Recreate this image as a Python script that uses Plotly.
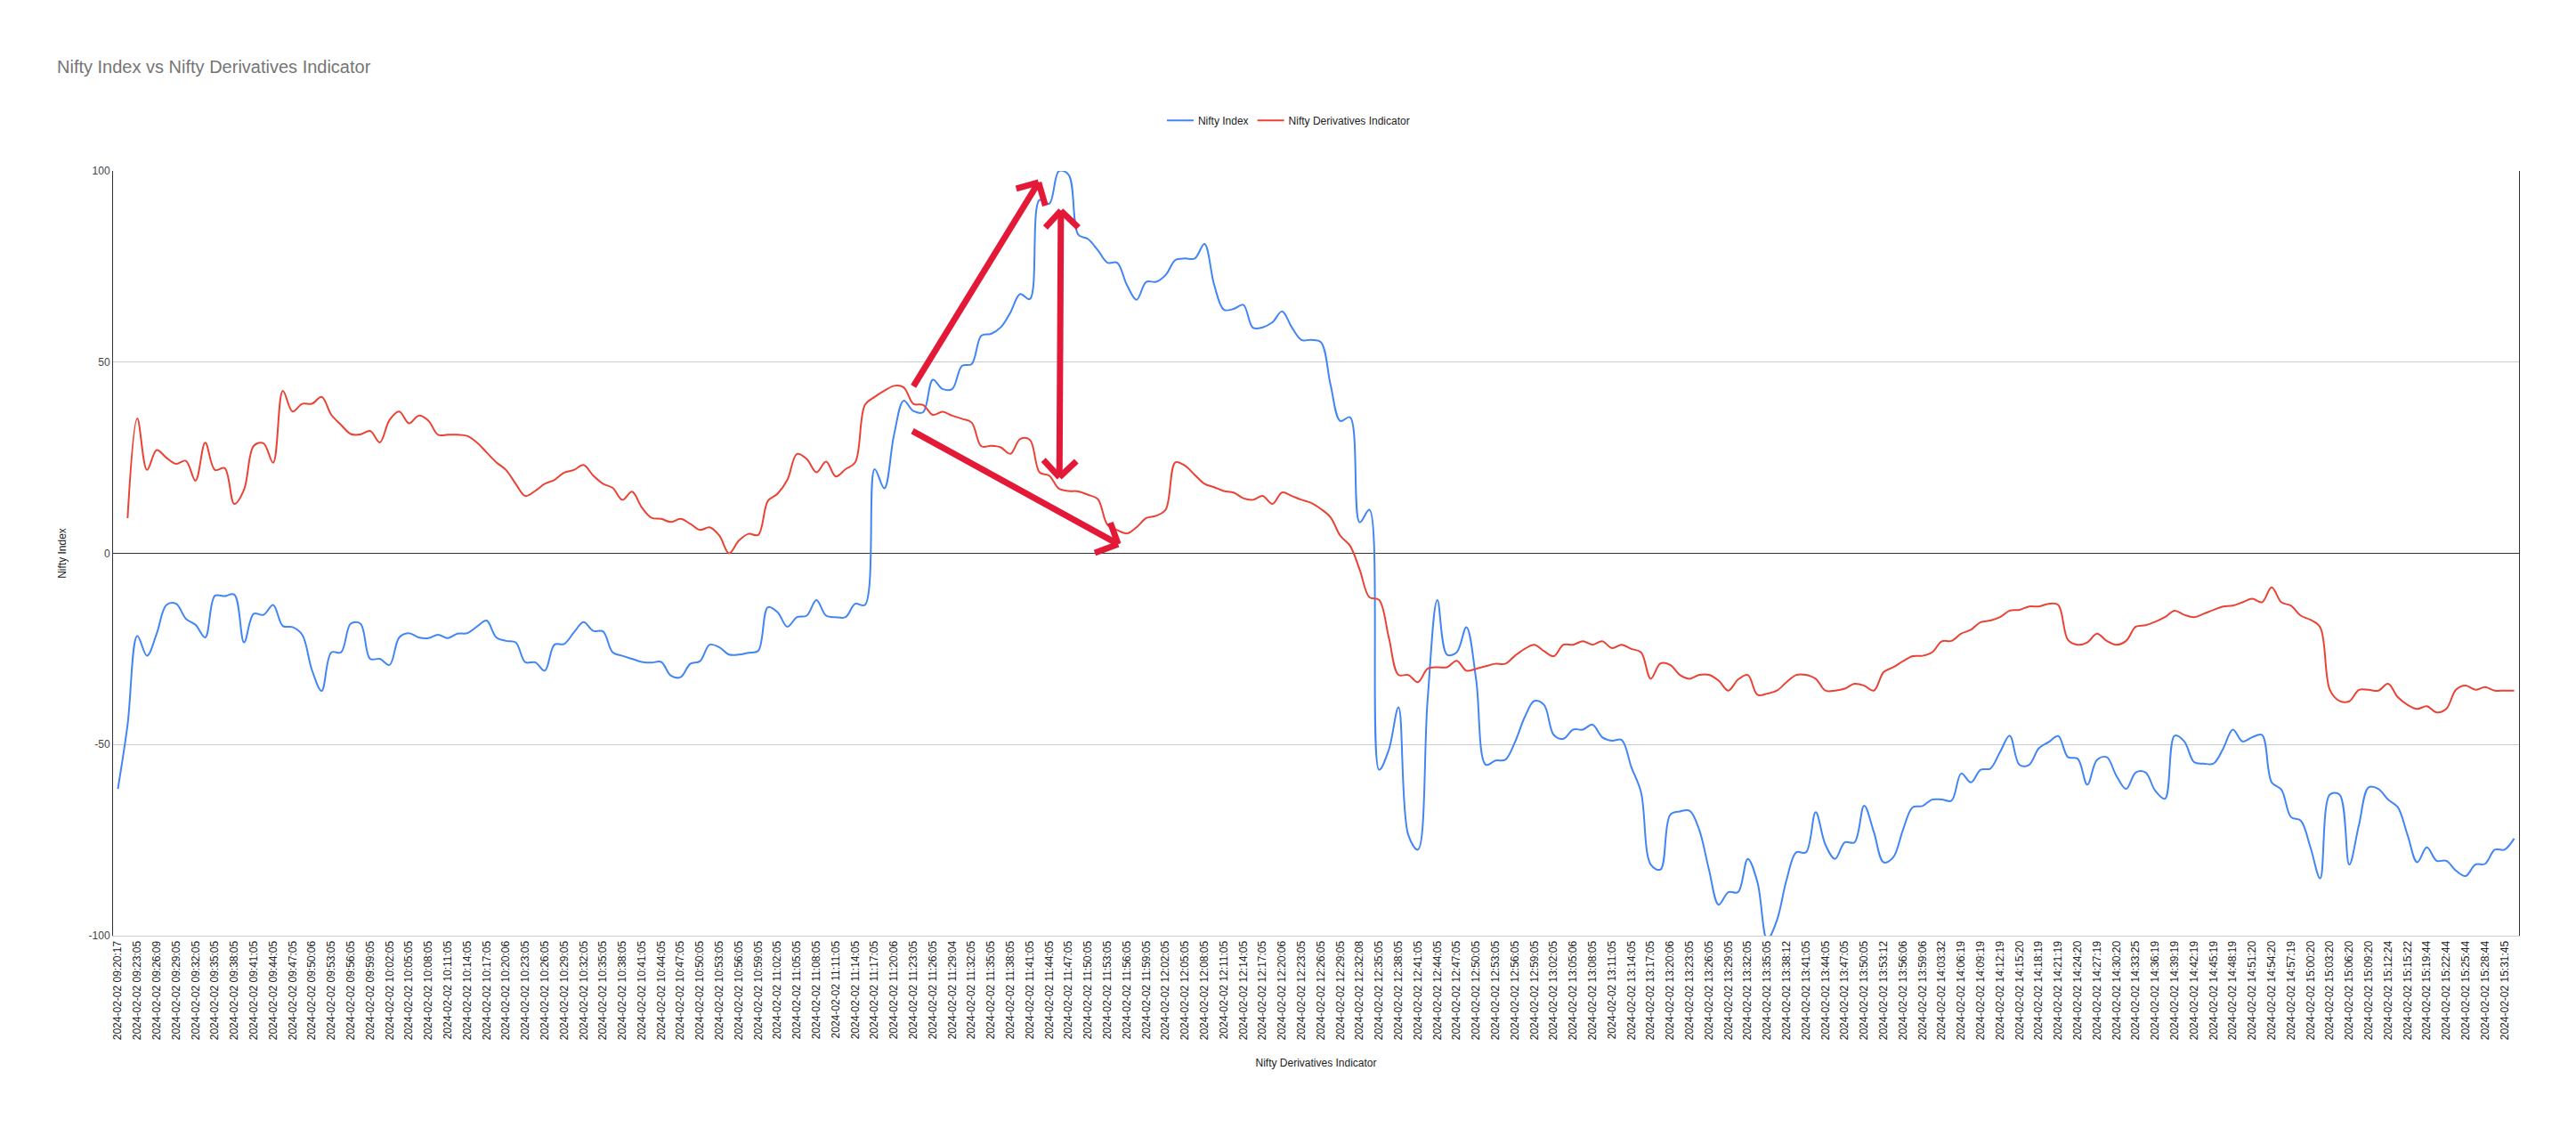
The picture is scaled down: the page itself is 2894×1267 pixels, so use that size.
import plotly.graph_objects as go

DATE = "2024-02-02"
tick_times = [
    "09:20:17","09:23:05","09:26:09","09:29:05","09:32:05","09:35:05","09:38:05","09:41:05","09:44:05","09:47:05","09:50:06","09:53:05","09:56:05","09:59:05","10:02:05","10:05:05","10:08:05","10:11:05","10:14:05","10:17:05","10:20:06","10:23:05",
    "10:26:05","10:29:05","10:32:05","10:35:05","10:38:05","10:41:05","10:44:05","10:47:05","10:50:05","10:53:05","10:56:05","10:59:05","11:02:05","11:05:05","11:08:05","11:11:05","11:14:05","11:17:05","11:20:06","11:23:05","11:26:05","11:29:04",
    "11:32:05","11:35:05","11:38:05","11:41:05","11:44:05","11:47:05","11:50:05","11:53:05","11:56:05","11:59:05","12:02:05","12:05:05","12:08:05","12:11:05","12:14:05","12:17:05","12:20:06","12:23:05","12:26:05","12:29:05","12:32:08","12:35:05",
    "12:38:05","12:41:05","12:44:05","12:47:05","12:50:05","12:53:05","12:56:05","12:59:05","13:02:05","13:05:06","13:08:05","13:11:05","13:14:05","13:17:05","13:20:06","13:23:05","13:26:05","13:29:05","13:32:05","13:35:05","13:38:12","13:41:05",
    "13:44:05","13:47:05","13:50:05","13:53:12","13:56:06","13:59:06","14:03:32","14:06:19","14:09:19","14:12:19","14:15:20","14:18:19","14:21:19","14:24:20","14:27:19","14:30:20","14:33:25","14:36:19","14:39:19","14:42:19","14:45:19","14:48:19",
    "14:51:20","14:54:20","14:57:19","15:00:20","15:03:20","15:06:20","15:09:20","15:12:24","15:15:22","15:19:44","15:22:44","15:25:44","15:28:44","15:31:45",
]
tick_labels = [f"{DATE} {t}" for t in tick_times]

nifty_index = [
    -61.6, -44.8, -21.6, -26.8, -21, -13.5, -13.2, -17.1, -18.7, -22,
    -11.1, -11.2, -10.8, -23.3, -15.8, -16.1, -13.5, -19, -19.3, -21.3,
    -30.5, -36, -25.9, -25.9, -18.4, -18.4, -27.6, -27.6, -29.2, -22,
    -20.9, -22, -22.2, -21.3, -22.2, -21, -20.9, -19.2, -17.6, -22,
    -22.9, -23.3, -28.5, -28.5, -30.7, -23.9, -23.7, -20.7, -18, -20.3,
    -20.4, -25.9, -26.8, -27.6, -28.4, -28.6, -28.4, -32, -32.4, -28.9,
    -28.2, -23.9, -24.6, -26.5, -26.5, -26, -25.5, -14.1, -15.4, -19.2,
    -16.7, -16.3, -12.2, -16.3, -16.7, -16.7, -13.2, -13.5, 22, 17,
    31, 39.9, 37.2, 36.9, 45.4, 43, 43, 49, 49.5, 56.9,
    57.4, 59.1, 63, 67.8, 66.5, 92.4, 91.4, 100, 99, 83.3,
    82.2, 79.3, 76, 76, 70.2, 66.3, 71, 71, 72.8, 76.7,
    77.1, 77.1, 80.9, 70.2, 63.7, 63.9, 65, 59, 59.1, 60.4,
    63.3, 59.1, 55.8, 55.8, 55.2, 44, 34.6, 35.6, 8.1, 11.4,
    -56.6, -51.4, -40.3, -73.6, -77.5, -38.3, -12.2, -26.5, -25.9, -19.3,
    -33, -55.3, -54.2, -54, -49.4, -42.9, -38.6, -39.6, -47.5, -48.5,
    -46.1, -46.1, -44.8, -48.1, -49, -48.8, -55.9, -62.5, -81.4, -82.7,
    -68.4, -67.5, -67.3, -72.3, -82.7, -91.9, -88.6, -88.6, -79.9, -86,
    -101, -96, -85.4, -78.2, -78.2, -67.7, -76.2, -79.9, -75.6, -75.6,
    -66, -72.9, -80.8, -79.5, -72.3, -66.4, -66.1, -64.4, -64.4, -64.7,
    -57.6, -59.9, -56.6, -56.3, -52, -47.7, -55.3, -55.3, -51, -49.4,
    -47.8, -53.3, -53.7, -60.5, -54, -53.3, -58.2, -61.6, -57.3, -57.3,
    -62.1, -64.2, -47.7, -49.2, -54.6, -55, -55, -51.1, -46.1, -49.2,
    -48.1, -47.5, -59.9, -61.8, -69, -69.9, -76.9, -85, -63.1, -63.1,
    -81.4, -71, -61.2, -61.6, -64.4, -66.4, -73.6, -80.8, -76.9, -80.4,
    -80.4, -83, -84.4, -81.4, -81.2, -77.5, -77.5, -74.6,
]

derivatives_indicator = [
    None, 9.2, 35.3, 21.8, 27, 25, 23.4, 24.2, 19, 28.9,
    21.8, 22.3, 12.9, 16.6, 28.1, 28.8, 23.7, 42.5, 37.1, 39.1,
    39.1, 40.9, 36.2, 33.6, 31.2, 31.1, 32, 29, 34.9, 37.1,
    34, 36, 34.7, 31, 31, 31, 30.7, 29, 26.4, 23.8,
    21.8, 18.2, 15, 16.3, 18.2, 19.2, 21.1, 21.8, 23.1, 20.3,
    18.2, 17.1, 14, 16.1, 12, 9.3, 9, 8.2, 9, 7.7,
    6.1, 6.8, 4.6, 0, 3.3, 5.1, 4.8, 13.7, 15.6, 19.2,
    26, 24.7, 21.2, 24, 20.1, 22, 23.8, 38.8, 40.9, 42.5,
    43.8, 43.4, 39.1, 38.8, 36.2, 37, 36, 35.2, 34.2, 28,
    28.1, 27.7, 26, 29.9, 29.7, 21.2, 20.3, 16.9, 16.3, 16.2,
    15.3, 14.2, 7.5, 6.1, 5.2, 6.8, 9.2, 9.8, 11.4, 23.8,
    22.9, 20.5, 18.2, 17.3, 16.3, 15.9, 14.4, 14, 15, 12.9,
    15.9, 15, 14, 13.2, 11.6, 9.4, 4.6, 2, -4.3, -11.5,
    -12.2, -22, -31.8, -31.8, -33.7, -30.2, -29.8, -29.8, -28.1, -30.7,
    -30.2, -29.5, -28.9, -28.9, -26.8, -25, -23.9, -25.6, -26.9, -23.9,
    -23.9, -23, -23.9, -23, -24.8, -23.9, -25, -25.9, -32.8, -28.8,
    -29.2, -31.8, -32.8, -31.8, -31.8, -33.3, -35.9, -33, -31.8, -37,
    -36.7, -35.9, -33.7, -31.8, -31.8, -32.8, -35.9, -35.9, -35.4, -34.1,
    -34.6, -35.9, -31.1, -29.8, -28.2, -26.9, -26.8, -25.9, -23, -22.9,
    -21, -20, -18, -17.6, -16.7, -15, -14.8, -13.9, -13.9, -13.2,
    -13.5, -22.6, -23.9, -23.3, -21, -22.9, -23.9, -22.9, -19.2, -18.8,
    -17.9, -16.7, -15, -16.1, -16.7, -15.8, -14.8, -13.9, -13.7, -12.8,
    -11.9, -12.8, -8.9, -12.8, -13.7, -16.3, -17.4, -19.3, -35.7, -38.6,
    -38.7, -35.7, -35.7, -35.9, -34.1, -37.6, -39.6, -40.7, -40, -41.6,
    -40.7, -35.7, -34.6, -35.7, -35, -35.9, -35.9, -35.9,
]

n = len(nifty_index)
x = list(range(n))
tick_positions = list(range(0, 2 * len(tick_labels), 2))

fig = go.Figure()
fig.add_trace(go.Scatter(x=x, y=nifty_index, name="Nifty Index", mode="lines",
                         line=dict(color="#4285F4", width=2, shape="spline", smoothing=1.0)))
fig.add_trace(go.Scatter(x=x, y=derivatives_indicator, name="Nifty Derivatives Indicator", mode="lines",
                         line=dict(color="#EA4335", width=2, shape="spline", smoothing=1.0)))

# hand-drawn style arrows (annotation overlay, in data coordinates)
ARROW = "#E31937"
arrow_segments = [
    # up-right arrow
    ((82.0, 43.7), (94.9, 97.0)), ((94.9, 97.0), (92.6, 95.4)), ((94.9, 97.0), (95.6, 90.9)),
    # double vertical arrow
    ((97.2, 89.6), (97.05, 19.9)), ((97.2, 89.6), (95.6, 85.2)), ((97.2, 89.6), (99.0, 85.2)),
    ((97.05, 19.9), (95.4, 24.4)), ((97.05, 19.9), (98.8, 24.1)),
    # down-right arrow
    ((81.9, 32.0), (103.1, 2.4)), ((103.1, 2.4), (102.3, 8.0)), ((103.1, 2.4), (100.7, 0.1)),
]
for (x0, y0), (x1, y1) in arrow_segments:
    fig.add_shape(type="line", xref="x", yref="y", x0=x0, y0=y0, x1=x1, y1=y1,
                  line=dict(color=ARROW, width=7), layer="above")

FONT = "Liberation Sans, Arial, sans-serif"
fig.update_layout(
    width=2894, height=1267,
    paper_bgcolor="white", plot_bgcolor="white",
    margin=dict(l=126.5, r=64, t=192.3, b=216, autoexpand=False),
    font=dict(family=FONT, size=12, color="#222222"),
    title=dict(text="Nifty Index vs Nifty Derivatives Indicator", xref="container", yref="container",
               x=64 / 2894, xanchor="left", y=1 - 75 / 1267, yanchor="middle",
               font=dict(family=FONT, size=20, color="#757575")),
    legend=dict(orientation="h", x=0.4885, xanchor="center", y=1.066, yanchor="middle",
                font=dict(family=FONT, size=12, color="#222222"), itemwidth=30,
                bgcolor="rgba(0,0,0,0)"),
    showlegend=True,
)
fig.update_xaxes(
    range=[-0.5, n - 0.5], tickmode="array", tickvals=tick_positions, ticktext=tick_labels,
    tickangle=-90, tickfont=dict(family=FONT, size=12, color="#222222"),
    showgrid=False, zeroline=False, showline=True, linecolor="#cccccc", linewidth=1,
    ticks="", title=dict(text="Nifty Derivatives Indicator", standoff=22,
                         font=dict(family=FONT, size=12, color="#222222")),
)
fig.update_yaxes(
    range=[-100, 100], tickmode="array", tickvals=[-100, -50, 0, 50, 100],
    ticktext=["-100", "-50", "0", "50", "100"],
    tickfont=dict(family=FONT, size=12, color="#444444"),
    showgrid=True, gridcolor="#cccccc", gridwidth=1,
    zeroline=True, zerolinecolor="#333333", zerolinewidth=1,
    showline=True, linecolor="#333333", linewidth=1, mirror=True,
    ticks="", title=dict(text="Nifty Index", standoff=22,
                         font=dict(family=FONT, size=12, color="#222222")),
)

fig.write_html("out.html", config={"displayModeBar": False},
               post_script="document.body.style.margin='0';document.body.style.padding='0';")
